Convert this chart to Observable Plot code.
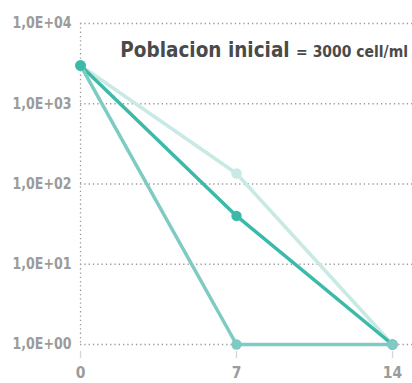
<!DOCTYPE html>
<html>
<head>
<meta charset="utf-8">
<script src="https://cdn.jsdelivr.net/npm/d3@7"></script>
<script src="https://cdn.jsdelivr.net/npm/@observablehq/plot@0.6"></script>
<style>
  html, body { margin: 0; padding: 0; background: #fff; }
  #chart { width: 412px; height: 383px; }
</style>
</head>
<body>
<div id="chart"></div>
<script>
const days = [0, 7, 14];
const seriesNames = ["light", "dark", "medium"];
const seriesLight = [3000, 135, 1];
const seriesDark = [3000, 40, 1];
const seriesMedium = [3000, 1, 1];
const seriesColors = ["#c9e9e5", "#3bb9a9", "#7dcbc2"];
const yTicks = [1, 10, 100, 1000, 10000];
const yTickLabels = ["1,0E+00", "1,0E+01", "1,0E+02", "1,0E+03", "1,0E+04"];
const xTicks = [0, 7, 14];
const titleMain = "Poblacion inicial";
const titleSub = "= 3000 cell/ml";

const font = "'Liberation Sans Narrow', 'DejaVu Sans Condensed', 'Roboto', sans-serif";

const allSeries = [seriesLight, seriesDark, seriesMedium];
const rows = [];
allSeries.forEach((vals, si) => {
  vals.forEach((v, i) => rows.push({series: seriesNames[si], day: days[i], value: v}));
});

const colorScale = {domain: seriesNames, range: seriesColors};

const plot = Plot.plot({
  width: 412,
  height: 383,
  marginLeft: 80,
  marginRight: 0,
  marginTop: 23,
  marginBottom: 39,
  style: {fontFamily: font, fontWeight: "bold", background: "#fff"},
  x: {domain: [0, 14], range: [80, 392]},
  y: {type: "log", domain: [1, 10000]},
  color: colorScale,
  marks: [
    Plot.ruleY(yTicks, {stroke: "#9a9a9a", strokeWidth: 1.3, strokeDasharray: "1.3,3"}),
    Plot.ruleX([0], {stroke: "#9a9a9a", strokeWidth: 1.3, strokeDasharray: "1.3,3"}),
    Plot.axisY(yTicks, {
      tickSize: 0, tickPadding: 9,
      tickFormat: (d) => yTickLabels[yTicks.indexOf(d)],
      fontSize: 15, fill: "#9b9b9b", label: null
    }),
    Plot.axisX(xTicks, {
      tickSize: 7, dy: 7, tickPadding: 8,
      stroke: "#d6d6d6", strokeWidth: 1.3,
      fontSize: 15.5, fill: "#9b9b9b", label: null
    }),
    Plot.line(rows, {x: "day", y: "value", z: "series", stroke: "series", strokeWidth: 3.5, strokeLinejoin: "round"}),
    Plot.dot(rows, {x: "day", y: "value", fill: "series", r: 5.2}),
    Plot.dot(rows.filter(d => d.series === "dark" && d.day === days[0]), {x: "day", y: "value", fill: "series", r: 5.2})
  ]
});

document.getElementById("chart").appendChild(plot);

const svg = d3.select(plot);
// condense the y tick labels to the narrow width of the original
svg.selectAll("g[aria-label='y-axis tick label'] text")
  .attr("textLength", 59)
  .attr("lengthAdjust", "spacingAndGlyphs");

const t = svg.append("text")
  .attr("x", 408)
  .attr("y", 57)
  .attr("text-anchor", "end")
  .attr("fill", "#4a4a4a")
  .style("font-family", font)
  .style("font-weight", "bold");
t.append("tspan").attr("font-size", 20.5).text(titleMain + " ");
t.append("tspan").attr("font-size", 15.5).text(titleSub);
</script>
</body>
</html>
